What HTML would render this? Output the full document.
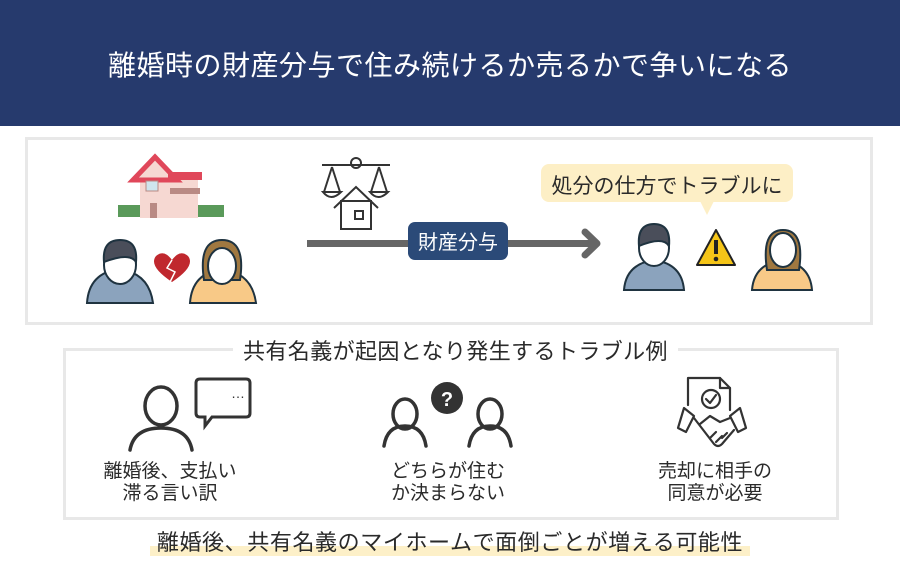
<!DOCTYPE html>
<html><head><meta charset="utf-8"><style>
body{margin:0;width:900px;height:570px;background:#fff;font-family:"Liberation Sans","Noto Sans CJK JP",sans-serif;overflow:hidden;position:relative}
.t{position:absolute;white-space:nowrap;color:#2a2a2a}
</style></head><body>
<div style="position:absolute;left:0;top:0;width:900px;height:126px;background:#263a6d"></div>
<div class="t" style="left:0;width:900px;top:44px;text-align:center;color:#fff;font-size:28px;letter-spacing:0.5px">離婚時の財産分与で住み続けるか売るかで争いになる</div>
<div style="position:absolute;left:25px;top:137px;width:842px;height:182px;border:3px solid #e8e8e8"></div>
<div style="position:absolute;left:63px;top:348px;width:770px;height:166px;border:3px solid #e8e8e8"></div>
<div class="t" style="left:233px;top:334px;padding:0 10px;background:#fff;font-size:22px;letter-spacing:0.4px">共有名義が起因となり発生するトラブル例</div>
<div style="position:absolute;left:150px;top:546px;width:600px;height:10px;background:#fdf0c8"></div>
<div class="t" style="left:0;width:900px;top:525px;text-align:center;font-size:22px;letter-spacing:0.6px">離婚後、共有名義のマイホームで面倒ごとが増える可能性</div>
<div style="position:absolute;left:541px;top:164px;width:252px;height:38px;background:#fdefc6;border-radius:8px"></div>
<div style="position:absolute;left:700px;top:201px;width:0;height:0;border-left:7px solid transparent;border-right:7px solid transparent;border-top:14px solid #fdefc6"></div>
<div class="t" style="left:541px;width:252px;top:170px;text-align:center;font-size:21px">処分の仕方でトラブルに</div>
<svg width="900" height="570" style="position:absolute;left:0;top:0">
<rect x="307" y="240" width="290" height="7" fill="#666"/>
<polyline points="585,232 597,243.5 585,255" fill="none" stroke="#666" stroke-width="7" stroke-linecap="round" stroke-linejoin="round"/>
<rect x="408" y="222" width="100" height="38" rx="7" fill="#2b4a78"/>
<text x="458" y="249" font-size="20" fill="#fff" text-anchor="middle" font-family="Liberation Sans,Noto Sans CJK JP,sans-serif">財産分与</text>
<rect x="118" y="205" width="35" height="12" fill="#5a9a5a"/><rect x="198" y="205" width="26" height="12" fill="#5a9a5a"/>
<rect x="140" y="180" width="58" height="38" fill="#f6d8d2"/>
<polygon points="133,180 155,157 177,180" fill="#f6d8d2" stroke="#e0475a" stroke-width="5"/>
<rect x="168" y="172" width="34" height="8" fill="#e0475a"/>
<rect x="170" y="188" width="30" height="6" fill="#b98a84"/>
<rect x="146" y="181" width="12" height="10" fill="#cfe6ee" stroke="#b98a84"/>
<rect x="150" y="203" width="7" height="15" fill="#b98a84"/>
<g fill="none" stroke="#333" stroke-width="2">
<line x1="322" y1="165" x2="390" y2="165"/><circle cx="356" cy="163" r="5"/>
<path d="M323 192 q8 10 18 0 z M370 192 q8 10 18 0 z"/>
<line x1="332" y1="167" x2="324" y2="192"/><line x1="332" y1="167" x2="340" y2="192"/>
<line x1="379" y1="167" x2="371" y2="192"/><line x1="379" y1="167" x2="387" y2="192"/>
<polyline points="334,208 356,187 378,208"/><rect x="341" y="201" width="30" height="28"/><rect x="355" y="211" width="8" height="8"/>
</g>
<g stroke="#1f3340" stroke-width="2">
<path d="M87 303 q2-30 32-34 q30 4 34 34 z" fill="#8ba3bd"/>
<ellipse cx="120" cy="265" rx="16" ry="19" fill="#fff"/>
<path d="M104 262 q-2-22 16-22 q18 0 16 22 q-6-10-32 0z" fill="#4a4e5a"/>
<path d="M190 303 q2-30 32-34 q30 4 34 34 z" fill="#f8c987"/>
<path d="M204 280 q-6-40 18-40 q24 0 18 40z" fill="#a07840"/>
<ellipse cx="222" cy="266" rx="14" ry="18" fill="#fff"/>
<path d="M624 290 q2-26 30-30 q28 4 30 30 z" fill="#8ba3bd"/>
<ellipse cx="654" cy="248" rx="15" ry="18" fill="#fff"/>
<path d="M639 246 q-2-22 15-22 q17 0 15 22 q-6-10-30 0z" fill="#4a4e5a"/>
<path d="M752 290 q2-26 30-30 q28 4 30 30 z" fill="#f8c987"/>
<path d="M767 270 q-6-40 16-40 q22 0 16 40z" fill="#a07840"/>
<ellipse cx="783" cy="250" rx="13" ry="17" fill="#fff"/>
</g>
<path d="M172 282 q-24-16-16-26 q8-7 16 4 q8-11 16-4 q8 10-16 26z" fill="#c0282e"/>
<polyline points="172,260 167,268 175,272 170,282" fill="none" stroke="#fff" stroke-width="1.5"/>
<polygon points="716,230 735,265 697,265" fill="#f5c518" stroke="#222" stroke-width="2" stroke-linejoin="round"/>
<rect x="714" y="240" width="4" height="14" fill="#222"/><circle cx="716" cy="259" r="2.3" fill="#222"/>
<g fill="none" stroke="#333" stroke-width="3.5" stroke-linecap="round">
<ellipse cx="161" cy="406" rx="16" ry="19"/><path d="M130 450 q4-22 31-22 q27 0 31 22"/>
<path d="M200 379 h46 q4 0 4 4 v30 q0 4-4 4 h-34 l-7 9 v-9 h-5 q-4 0-4-4 v-30 q0-4 4-4z" stroke-width="3"/>
<ellipse cx="405" cy="414" rx="12" ry="15"/><path d="M384 446 q3-20 21-20 q18 0 21 20"/>
<ellipse cx="490" cy="414" rx="12" ry="15"/><path d="M469 446 q3-20 21-20 q18 0 21 20"/>
</g>
<g fill="none" stroke="#333" stroke-width="2.2" stroke-linejoin="round" stroke-linecap="round">
<path d="M688 405 v-27 h32 l10 10 v22"/><path d="M720 378 v10 h10"/>
<circle cx="711" cy="399" r="9"/><polyline points="706,399 710,403 716,395"/>
<path d="M684 408 l-6 20 l8 4 l8-16z"/><path d="M740 408 l6 20 l-8 4 l-8-16z"/>
<path d="M694 418 l20 26 q4 4 8 0 l12-14 M700 424 l10-8 l10 6 l10-4"/>
<path d="M710 438 l6-6 M716 442 l6-6 M722 438 l5-5"/>
</g>
<text x="238" y="398" font-size="14" fill="#333" text-anchor="middle">…</text>
<circle cx="447" cy="398" r="16" fill="#333"/>
<text x="447" y="406" font-size="20" font-weight="bold" fill="#fff" text-anchor="middle" font-family="Liberation Sans,sans-serif">?</text>
</svg>
<div class="t" style="left:95px;width:150px;top:461px;text-align:center;font-size:19px;line-height:22px">離婚後、支払い<br>滞る言い訳</div>
<div class="t" style="left:373px;width:150px;top:461px;text-align:center;font-size:19px;line-height:22px">どちらが住む<br>か決まらない</div>
<div class="t" style="left:640px;width:150px;top:461px;text-align:center;font-size:19px;line-height:22px">売却に相手の<br>同意が必要</div>
</body></html>
